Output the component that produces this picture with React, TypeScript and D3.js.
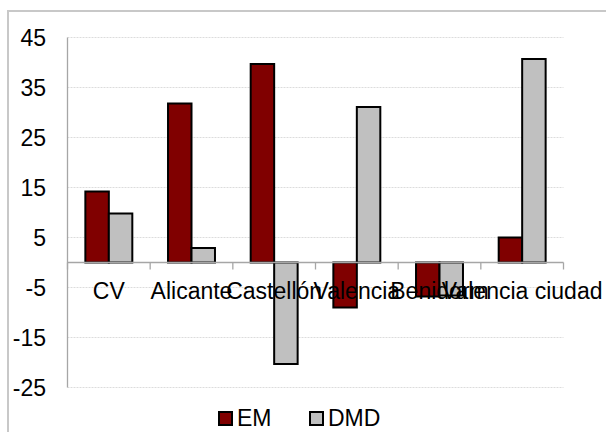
import React from "react";
import * as d3 from "d3";

const categories = ["CV", "Alicante", "Castellón", "Valencia", "Benidorm", "Valencia ciudad"];
const emValues = [14.2, 31.8, 39.7, -9.0, -6.8, 5.0];
const dmdValues = [9.8, 2.9, -20.3, 31.1, -6.6, 40.7];
const yTicks = [45, 35, 25, 15, 5, -5, -15, -25];
const seriesNames = ["EM", "DMD"];
const seriesColors = ["#800000", "#c0c0c0"];

const W = 606;
const H = 432;
const FONT = "'Liberation Sans', Arial, sans-serif";

export default function App() {
  const x0 = 67.5, x1 = 563.5;
  const yScale = d3.scaleLinear().domain([-25, 45]).range([387.5, 37.5]);
  const band = d3.scaleBand<string>().domain(categories).range([x0, x1]).paddingInner(0).paddingOuter(0);
  const bw = band.bandwidth();
  const barW = bw * 0.284;
  const series = [emValues, dmdValues];
  const zeroY = yScale(0);

  return (
    <svg width={W} height={H} style={{ position: "absolute", left: 0, top: 0 }} fontFamily={FONT}>
      <rect x={0} y={0} width={W} height={H} fill="#ffffff" />
      <rect x={8} y={11} width={W + 10} height={H + 10} fill="#ffffff" stroke="#c8c8c8" strokeWidth={2} />
      {yTicks.map((t) => (
        <line key={"g" + t} x1={x0} x2={x1} y1={yScale(t)} y2={yScale(t)} stroke="#dcdcdc" strokeWidth={1} strokeDasharray="2,1" />
      ))}
      <line x1={x0} x2={x0} y1={yScale(45)} y2={yScale(-25)} stroke="#a6a6a6" strokeWidth={1.3} />
      {yTicks.map((t) => (
        <text key={"yl" + t} x={46} y={yScale(t)} dy="0.36em" textAnchor="end" fontSize={23} fill="#000">
          {t}
        </text>
      ))}
      {series.map((vals, si) =>
        vals.map((v, i) => {
          const cx = (band(categories[i]) as number) + bw / 2;
          const bx = si === 0 ? cx - barW : cx;
          const top = Math.min(yScale(v), zeroY);
          const h = Math.abs(yScale(v) - zeroY);
          return (
            <rect key={si + "-" + i} x={bx} y={top} width={barW} height={h} fill={seriesColors[si]} stroke="#000" strokeWidth={2} />
          );
        })
      )}
      <line x1={x0} x2={x1} y1={zeroY} y2={zeroY} stroke="#a6a6a6" strokeWidth={1.3} />
      {categories.concat(["__end"]).map((c, i) => {
        const xx = x0 + i * bw;
        return <line key={"t" + i} x1={xx} x2={xx} y1={zeroY} y2={zeroY + 7} stroke="#a6a6a6" strokeWidth={1.3} />;
      })}
      {categories.map((c) => (
        <text key={"xl" + c} x={(band(c) as number) + bw / 2} y={299} textAnchor="middle" fontSize={23} fill="#000">
          {c}
        </text>
      ))}
      {seriesNames.map((s, i) => {
        const lx = i === 0 ? 219 : 310;
        return (
          <g key={"lg" + s}>
            <rect x={lx} y={412} width={13} height={13} fill={seriesColors[i]} stroke="#000" strokeWidth={2} />
            <text x={lx + 18} y={426} fontSize={23} fill="#000">
              {s}
            </text>
          </g>
        );
      })}
    </svg>
  );
}
